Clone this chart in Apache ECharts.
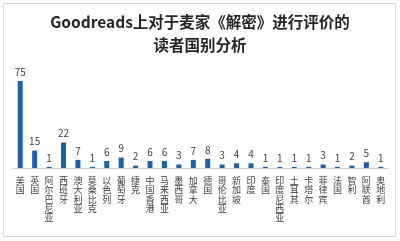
<!DOCTYPE html>
<html><head><meta charset="utf-8">
<script src="https://cdn.jsdelivr.net/npm/echarts@6/dist/echarts.min.js"></script>
<style>html,body{margin:0;padding:0;background:#fff}#c{width:400px;height:241px}</style>
</head><body><div id="c"></div>
<script>
var titleText = 'Goodreads上对于麦家《解密》进行评价的\n读者国别分析';
var categories = ['美国','英国','阿尔巴尼亚','西班牙','澳大利亚','莫桑比克','以色列','葡萄牙','捷克','中国香港','马来西亚','墨西哥','加拿大','德国','哥伦比亚','新加坡','印度','泰国','印度尼西亚','土耳其','卡塔尔','菲律宾','法国','智利','阿联酋','奥地利'];
var values = [75,15,1,22,7,1,6,9,2,6,6,3,7,8,3,4,4,1,1,1,1,3,1,2,5,1];

var chart = echarts.init(document.getElementById('c'), null, {renderer:'canvas'});
var font = '"Noto Sans CJK SC", "Noto Sans", sans-serif';
chart.setOption({
  animation:false,
  textStyle:{fontFamily:font},
  graphic:[{type:'rect',shape:{x:3.5,y:3.5,width:392,height:233},style:{fill:'none',stroke:'#d9d9d9',lineWidth:1},silent:true}],
  title:{text:titleText,left:'center',top:6,textStyle:{fontSize:15.5,fontWeight:'bold',color:'#262626',lineHeight:23,fontFamily:font}},
  grid:{left:13,right:12,top:81,bottom:73,containLabel:false},
  xAxis:{type:'category',data:categories,
    axisLine:{lineStyle:{color:'#d0d0d0'}},axisTick:{show:false},
    axisLabel:{interval:0,fontSize:9,lineHeight:9.3,color:'#404040',margin:8,verticalAlign:'top',
      formatter:function(v){return v.split('').join('\n');}}},
  yAxis:{type:'value',min:0,max:75,show:false,splitLine:{show:false}},
  series:[{type:'bar',data:values,barWidth:5,itemStyle:{color:'#1F5FA8'},
    label:{show:true,position:'top',distance:4,fontSize:10,color:'#404040'}}]
});
</script></body></html>
